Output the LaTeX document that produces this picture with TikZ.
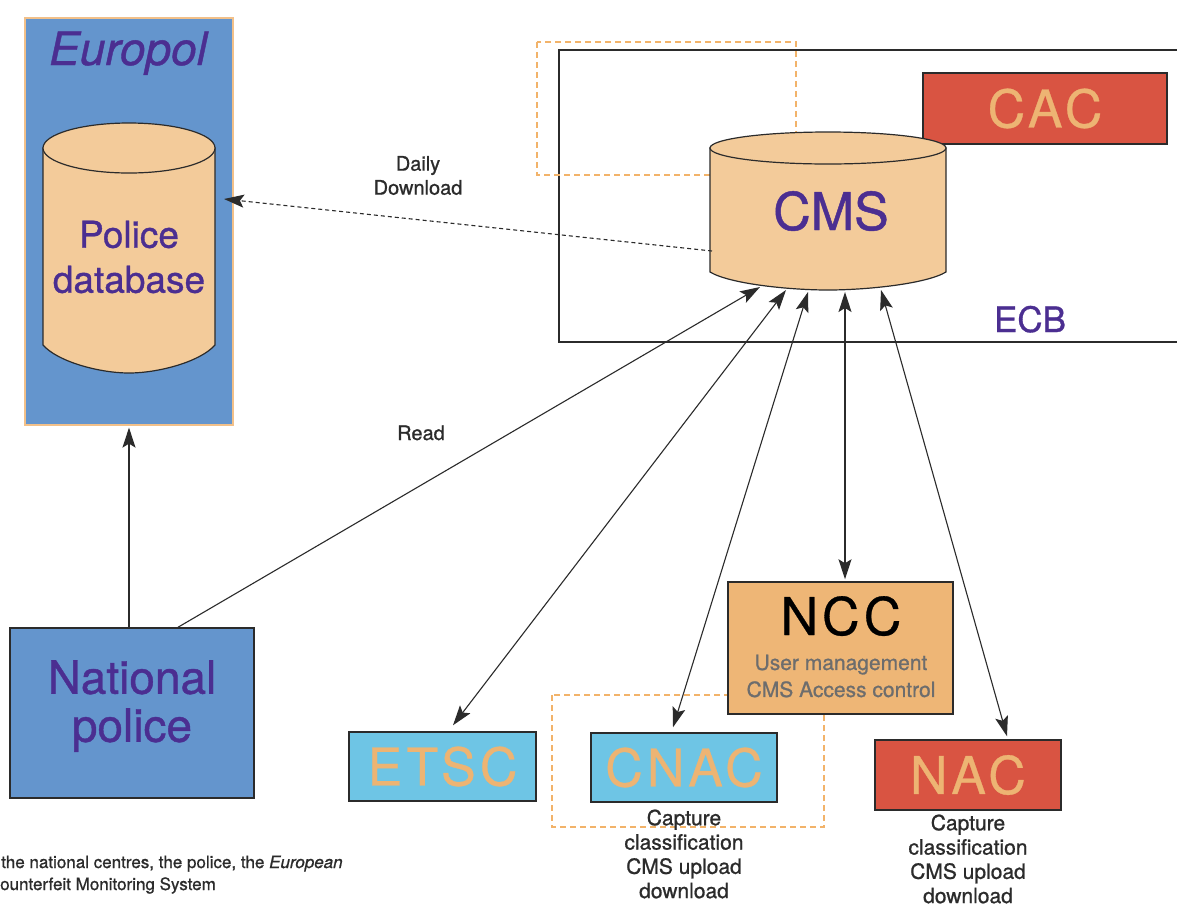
\documentclass[tikz,border=0pt]{standalone}
\usepackage{fontspec}
\setmainfont{TeX Gyre Heros}[FakeBold=0.9]
\newfontfamily\spc[LetterSpace=8,FakeBold=0.6]{TeX Gyre Heros}
\usetikzlibrary{arrows.meta}
\definecolor{eublue}{HTML}{6495CD}
\definecolor{purp}{HTML}{4B2E91}
\definecolor{cyl}{HTML}{F3CB9A}
\definecolor{redc}{HTML}{D95442}
\definecolor{lor}{HTML}{EDB473}
\definecolor{nccf}{HTML}{EEB676}
\definecolor{cyanc}{HTML}{6EC5E5}
\definecolor{greyt}{HTML}{6D6D6D}
\definecolor{dashor}{HTML}{F2B36A}
\definecolor{edgec}{HTML}{2B2B2B}
\definecolor{eubord}{HTML}{F2C089}
\newcommand{\fsz}[2]{\fontsize{#1}{#2}\selectfont}
\begin{document}
\begin{tikzpicture}[x=1pt,y=-1pt,
  box/.style={draw=edgec, line width=1.5pt, inner sep=0pt},
  cylpath/.style={fill=cyl, draw=edgec, line width=1.2pt},
  conn/.style={draw=edgec, line width=1.1pt},
  tip/.tip={Stealth[length=20pt,width=13pt,inset=4pt]},
  arr/.style={conn, -tip},
  arrb/.style={conn, tip-tip},
  orbox/.style={draw=dashor, line width=1.6pt, dash pattern=on 6pt off 4pt},
  lbl/.style={text=edgec, inner sep=0pt, align=center}
]
\useasboundingbox[fill=white] (0,0) rectangle (1177,903);

% Europol
\node[draw=eubord, fill=eublue, line width=1.2pt, minimum width=208pt, minimum height=407pt, inner sep=0pt] (europol) at (129,221.5) {};
\node[text=purp, inner sep=0pt, anchor=base, font={\fsz{46}{50}\itshape}] (eutxt) at (128,65) {Europol};
% Police database cylinder
\path[cylpath] (43,148) -- (43,345) .. controls (58,362) and (100,373) .. (129,373) .. controls (158,373) and (200,362) .. (215,345) -- (215,148) -- cycle;
\path[cylpath] (129,148) ellipse [x radius=86pt, y radius=25pt];
\node[text=purp, inner sep=0pt, align=center, font={\fsz{37}{45}}] (pdb) at (129,257) {Police\\database};
\coordinate (pdbin) at (224,199);

% ECB container
\draw[draw=edgec, line width=2.2pt] (1200,50) -- (559,50) -- (559,342) -- (1200,342);
\node[text=purp, inner sep=0pt, anchor=base, font={\fsz{35}{40}}] (ecb) at (1030,332) {ECB};
% orange dashed box (top)
\draw[orbox] (537,42) rectangle (796,175);
% CAC
\node[box, fill=redc, minimum width=244pt, minimum height=71pt, text=lor, font={\spc\fsz{52}{60}}] (cac) at (1045,108.5) {CAC};
% CMS cylinder
\path[cylpath] (710,148) -- (710,272) .. controls (730,284) and (790,290) .. (828,290) .. controls (866,290) and (926,284) .. (946,272) -- (946,148) -- cycle;
\path[cylpath] (828,148) ellipse [x radius=118pt, y radius=16pt];
\node[text=purp, inner sep=0pt, anchor=base, font={\fsz{52}{60}}] (cms) at (831,230) {CMS};
\coordinate (cmsL) at (712,251);
\coordinate (c1) at (760,287);
\coordinate (c2) at (786,290);
\coordinate (c3) at (808,292);
\coordinate (c4) at (845,292);
\coordinate (c5) at (881,290);

% bottom boxes
\draw[orbox] (552,695) rectangle (824,827);
\node[box, fill=nccf, minimum width=225pt, minimum height=132pt] (ncc) at (840.5,648) {};
\node[inner sep=0pt, anchor=base, text=black, font={\spc\fsz{52}{60}}] (ncctxt) at (841,635) {NCC};
\node[inner sep=0pt, align=center, text=greyt, font={\fsz{21}{27}}] (nccsub) at (841,676) {User management\\CMS Access control};

\node[box, fill=eublue, minimum width=244pt, minimum height=170pt] (np) at (132,713) {};
\node[text=purp, inner sep=0pt, align=center, font={\fsz{46}{48}}] (nptxt) at (132,706) {National\\police};

\node[box, fill=cyanc, minimum width=187pt, minimum height=69pt, text=lor, font={\spc\fsz{52}{60}}] (etsc) at (442.5,766.5) {ETSC};
\node[box, fill=cyanc, minimum width=186pt, minimum height=69pt, text=lor, font={\spc\fsz{52}{60}}] (cnac) at (684,767.5) {CNAC};
\node[box, fill=redc, minimum width=186pt, minimum height=70pt, text=lor, font={\spc\fsz{52}{60}}] (nac) at (968,775) {NAC};

\node[lbl, font={\fsz{21}{24.3}}] (cnaccap) at (684,854) {Capture\\classification\\CMS upload\\download};
\node[lbl, font={\fsz{21}{24.3}}] (naccap) at (968,859) {Capture\\classification\\CMS upload\\download};

% labels
\node[lbl, font={\fsz{20}{24}}] (daily) at (418,175.5) {Daily\\Download};
\node[lbl, anchor=base, font={\fsz{20}{24}}] (read) at (421,440) {Read};

% connectors
\draw[conn, dash pattern=on 4pt off 3pt, -tip] (cmsL) -- (pdbin);
\draw[arr] (np.north -| europol.south) -- ([yshift=-2pt]europol.south);
\draw[arr] ([xshift=46pt]np.north) -- (c1);
\draw[arrb] (c2) -- ([xshift=10.5pt,yshift=6pt]etsc.north);
\draw[arrb] (c3) -- ([xshift=-11pt,yshift=5pt]cnac.north);
\draw[arrb] (c4) -- ([xshift=4.5pt,yshift=2pt]ncc.north);
\draw[arrb] (c5) -- ([xshift=39pt,yshift=3pt]nac.north);

% caption fragment
\node[text=edgec, inner sep=0pt, anchor=base west, font={\fsz{17}{22}}] (cap1) at (1,868) {the national centres, the police, the \textit{European}};
\node[text=edgec, inner sep=0pt, anchor=base west, font={\fsz{17}{22}}] (cap2) at (0,890) {ounterfeit Monitoring System};
\end{tikzpicture}
\end{document}
